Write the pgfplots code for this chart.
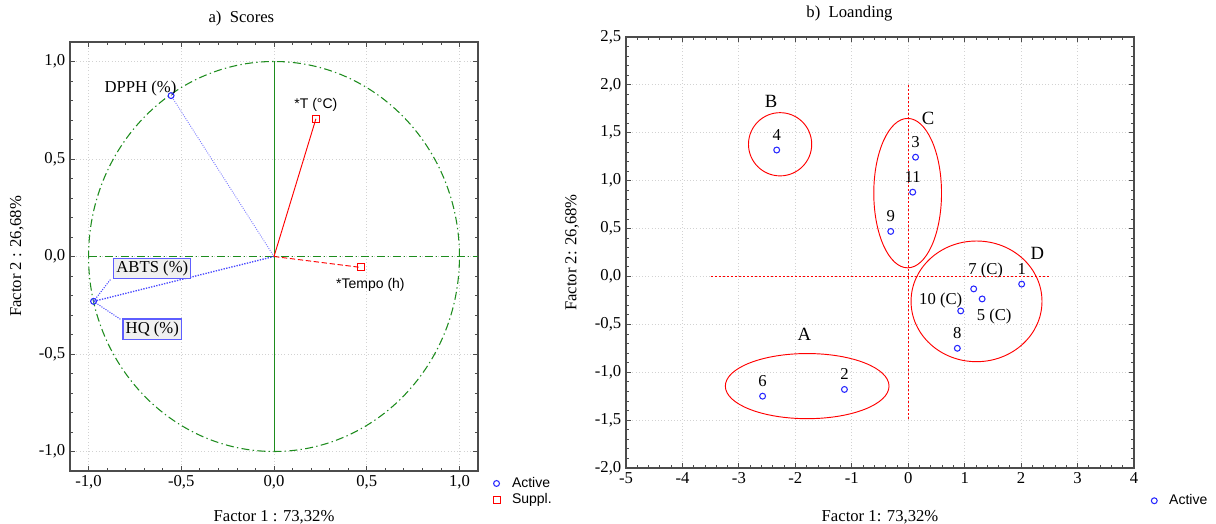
\documentclass[border=0pt]{standalone}
\usepackage{pgfplots}
\pgfplotsset{compat=1.18}
\usepackage{fontspec}
\setmainfont{Liberation Serif}
\newfontfamily\arialfont{Liberation Sans}
\definecolor{pcgreen}{RGB}{30,140,30}
\definecolor{pcblue}{RGB}{40,40,255}

\begin{document}
\begin{tikzpicture}[x=1pt,y=1pt]
\useasboundingbox (0,0) rectangle (912,393);
\pgfplotsset{
  myaxis/.style={
    scale only axis,
    font=\fontsize{12.5}{15}\selectfont,
    tick align=inside,
    major tick length=4pt,
    minor tick length=2.5pt,
    axis line style={draw=black!70, line width=1.1pt},
    grid=major,
    major grid style={gray!35, dotted, line width=0.7pt},
    every tick/.style={black!70, line width=0.6pt},
    /pgf/number format/use comma,
    /pgf/number format/fixed,
    /pgf/number format/fixed zerofill,
    /pgf/number format/precision=1,
    /pgf/number format/assume math mode=true,
    clip=false,
    legend cell align=left,
  },
  ptstyle/.style={only marks, mark=o, pcblue, mark size=2.2pt, mark options={line width=0.8pt}, forget plot,
    point meta=explicit symbolic, nodes near coords,
    nodes near coords style={anchor=center, text=black, font=\fontsize{12.5}{15}\selectfont}},
}
% ---------------- Left panel ----------------
\begin{axis}[myaxis,
  at={(52.5pt,39.75pt)}, anchor=south west,
  width=306pt, height=321.75pt,
  xmin=-1.1, xmax=1.1, ymin=-1.1, ymax=1.1,
  xtick={-1,-0.5,0,0.5,1}, ytick={-1,-0.5,0,0.5,1},
  minor tick num=4,
  xlabel={Factor 1 : 73,32\%}, ylabel={Factor 2 : 26,68\%},
  xlabel style={at={(axis description cs:0.5,-0.107)}, anchor=center},
  ylabel style={at={(axis description cs:-0.13,0.5)}, anchor=center},
  title={a)\ \ Scores}, title style={at={(axis description cs:0.42,1.037)}, anchor=center},
  legend style={draw=none, fill=none, at={(axis description cs:1.033,-0.005)}, anchor=north west,
    font=\arialfont\fontsize{10.5}{12}\selectfont, row sep=-1pt, inner sep=1pt},
]
\draw[pcgreen, dash pattern=on 6pt off 2.5pt on 1pt off 2.5pt, line width=0.8pt] (axis cs:0,0) circle [radius=1];
\addplot[pcgreen, dash pattern=on 6pt off 2.5pt on 1pt off 2.5pt, line width=0.8pt, forget plot] coordinates {(-1,0) (1.1,0)};
\addplot[pcgreen, line width=0.6pt, forget plot] coordinates {(0,-1) (0,1)};
\addplot[pcblue!60, densely dotted, line width=0.7pt, forget plot] coordinates {(0,0) (-0.555,0.825)};
\addplot[pcblue!85, densely dotted, line width=1pt, forget plot] coordinates {(0,0) (-0.973,-0.23)};
\addplot[red, line width=0.7pt, forget plot] coordinates {(0,0) (0.226,0.706)};
\addplot[red, dash pattern=on 4pt off 2pt, line width=0.7pt, forget plot] coordinates {(0,0) (0.468,-0.056)};
\draw[pcblue!85, densely dotted, line width=0.8pt] (axis cs:-0.973,-0.23) -- (axis cs:-0.882,-0.118);
\draw[pcblue!85, densely dotted, line width=0.8pt] (axis cs:-0.973,-0.23) -- (axis cs:-0.828,-0.322);
\addplot[only marks, mark=o, pcblue, mark size=2.2pt, mark options={line width=0.8pt}] coordinates {(-0.555,0.825) (-0.973,-0.23)};
\addlegendentry{\hspace{7pt}Active}
\addplot[only marks, mark=square, red, mark size=2.6pt, mark options={line width=0.7pt}] coordinates {(0.226,0.706) (0.468,-0.056)};
\addlegendentry{\hspace{7pt}Suppl.}
\node[font=\fontsize{12.5}{15}\selectfont] at (axis cs:-0.72,0.864) {DPPH (\%)};
\node[draw=pcblue!75, fill=gray!12, line width=0.9pt, inner sep=2pt, minimum height=14pt, font=\fontsize{12.5}{15}\selectfont] at (axis cs:-0.656,-0.061) {ABTS (\%)};
\node[draw=pcblue!75, fill=gray!12, line width=0.9pt, inner sep=2pt, minimum height=14pt, font=\fontsize{12.5}{15}\selectfont] at (axis cs:-0.656,-0.373) {HQ (\%)};
\node[font=\arialfont\fontsize{10.5}{12}\selectfont] at (axis cs:0.226,0.78) {*T (°C)};
\node[font=\arialfont\fontsize{10.5}{12}\selectfont] at (axis cs:0.52,-0.143) {*Tempo (h)};
\end{axis}
% ---------------- Right panel ----------------
\begin{axis}[myaxis,
  at={(469.5pt,42pt)}, anchor=south west,
  width=381pt, height=323.25pt,
  xmin=-5, xmax=4, ymin=-2, ymax=2.5,
  xtick={-5,-4,-3,-2,-1,0,1,2,3,4}, ytick={-2,-1.5,-1,-0.5,0,0.5,1,1.5,2,2.5},
  minor x tick num=4, minor y tick num=4,
  xticklabel style={/pgf/number format/.cd, precision=0, fixed zerofill=false},
  xlabel={Factor 1: 73,32\%}, ylabel={Factor 2: 26,68\%},
  xlabel style={at={(axis description cs:0.5,-0.114)}, anchor=center},
  ylabel style={at={(axis description cs:-0.106,0.5)}, anchor=center},
  title={b)\ \ Loanding}, title style={at={(axis description cs:0.44,1.037)}, anchor=center},
  legend style={draw=none, fill=none, at={(axis description cs:1.031,-0.052)}, anchor=north west,
    font=\arialfont\fontsize{10.5}{12}\selectfont, inner sep=1pt},
]
\addlegendimage{only marks, mark=o, pcblue, mark size=2.2pt, mark options={line width=0.8pt}}
\addlegendentry{\hspace{7pt}Active}
\addplot[red, dash pattern=on 1.5pt off 1.5pt, line width=0.8pt, forget plot] coordinates {(-3.5,0) (2.5,0)};
\addplot[red, dash pattern=on 1.5pt off 1.5pt, line width=0.8pt, forget plot] coordinates {(0,2) (0,-1.5)};
\draw[red, line width=0.7pt] (axis cs:-2.27,1.38) ellipse [x radius=0.56, y radius=0.33];
\draw[red, line width=0.7pt] (axis cs:-0.01,0.87) ellipse [x radius=0.60, y radius=0.78];
\draw[red, line width=0.7pt] (axis cs:1.21,-0.26) ellipse [x radius=1.16, y radius=0.63];
\draw[red, line width=0.7pt] (axis cs:-1.79,-1.145) ellipse [x radius=1.45, y radius=0.34];
% points labelled above
\addplot[ptstyle, nodes near coords style={yshift=11.5pt}] coordinates {
  (2.01,-0.08) [1] (-1.13,-1.18) [2] (0.13,1.245) [3] (-2.33,1.32) [4]
  (-2.58,-1.25) [6] (0.87,-0.75) [8] (-0.31,0.47) [9] (0.08,0.88) [11]};
\addplot[ptstyle, nodes near coords style={xshift=9pt, yshift=-13.5pt}] coordinates {(1.31,-0.235) [5 (C)]};
\addplot[ptstyle, nodes near coords style={xshift=9pt, yshift=14pt}] coordinates {(1.16,-0.13) [7 (C)]};
\addplot[ptstyle, nodes near coords style={xshift=-15pt, yshift=8pt}] coordinates {(0.93,-0.36) [10 (C)]};
\node[font=\fontsize{14}{16}\selectfont] at (axis cs:-2.43,1.83) {B};
\node[font=\fontsize{14}{16}\selectfont] at (axis cs:0.35,1.65) {C};
\node[font=\fontsize{14}{16}\selectfont] at (axis cs:2.29,0.24) {D};
\node[font=\fontsize{14}{16}\selectfont] at (axis cs:-1.84,-0.60) {A};
\end{axis}
\end{tikzpicture}
\end{document}
